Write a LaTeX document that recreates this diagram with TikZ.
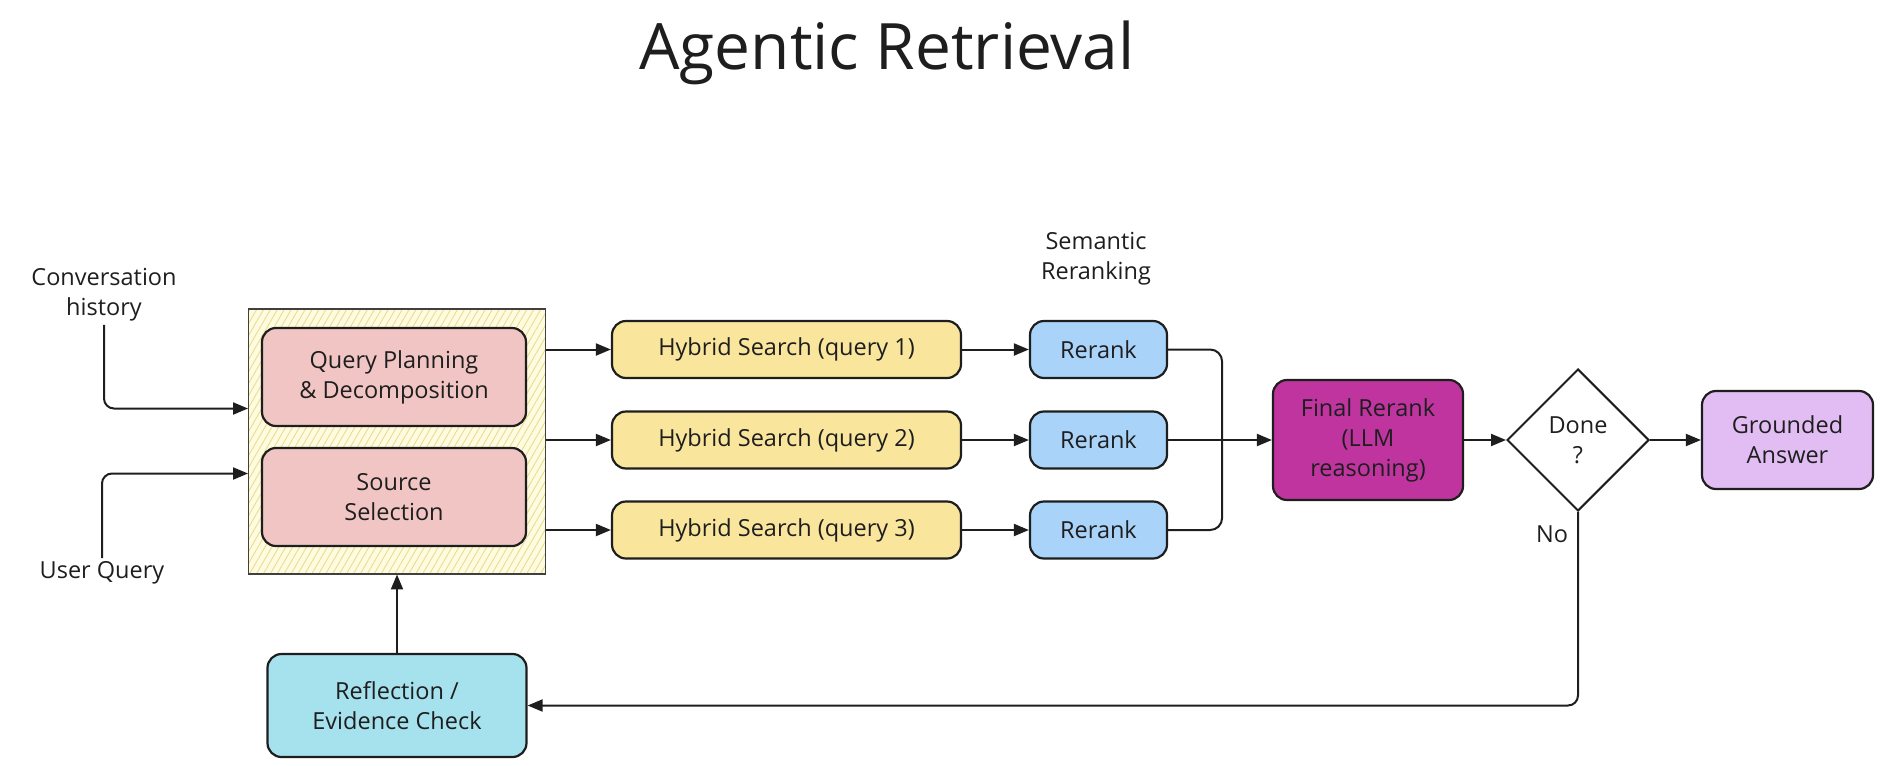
\documentclass[tikz,border=0pt]{standalone}
\usepackage{fontspec}
\setmainfont{Open Sans}
\usetikzlibrary{arrows.meta,shapes.geometric,patterns.meta}
\definecolor{ink}{HTML}{1E1E1E}
\definecolor{pinkbox}{HTML}{F2C5C5}
\definecolor{yellowbox}{HTML}{F9E69C}
\definecolor{bluebox}{HTML}{A9D3F8}
\definecolor{magentabox}{HTML}{C034A0}
\definecolor{lilacbox}{HTML}{E2BDF4}
\definecolor{cyanbox}{HTML}{A6E1EE}
\definecolor{hatchbg}{HTML}{FFFBE0}
\definecolor{hatchline}{HTML}{E8DD90}

\begin{document}
\begin{tikzpicture}[x=1pt,y=-1pt,
    every node/.style={font=\fontsize{23.5}{30}\selectfont,text=ink,align=center},
    box/.style={draw=ink,line width=2.2pt,rounded corners=14pt,inner sep=0pt},
    arr/.style={draw=ink,line width=2pt,-{Triangle[length=15pt,width=12pt]}},
    link/.style={draw=ink,line width=2pt}]
    \useasboundingbox (0,0) rectangle (1883,766);
    \node (T) [font=\fontsize{64}{70}\selectfont] at (887,53) {Agentic Retrieval};
    \node (CH) at (104,295) {Conversation\\history};
    \node (UQ) at (102,573) {User Query};
    \node (SR) at (1096,259) {Semantic\\Reranking};
    \node (G) [draw=ink!85,line width=1.4pt,minimum width=297pt,minimum height=265pt,
      preaction={fill=hatchbg},pattern={Lines[angle=60,distance=6pt,line width=0.9pt]},
      pattern color=hatchline] at (397,441.5) {};
    \node (P) [box,fill=pinkbox,minimum width=264pt,minimum height=98pt] at (394,377) {Query Planning\\\& Decomposition};
    \node (S) [box,fill=pinkbox,minimum width=264pt,minimum height=98pt] at (394,497) {Source\\Selection};
    \foreach \i/\y in {1/349.5,2/440,3/530}{
      \node (H\i) [box,fill=yellowbox,minimum width=349pt,minimum height=57pt] at (786.5,\y) {Hybrid Search (query \i)};
      \node (R\i) [box,fill=bluebox,minimum width=137pt,minimum height=57pt] at (1098.5,\y) {Rerank};
      \draw [arr] (G.east |- H\i) -- (H\i);
      \draw [arr] (H\i) -- (R\i);
    }
    \node (F) [box,fill=magentabox,minimum width=190pt,minimum height=120pt] at (1368,440) {Final Rerank\\(LLM\\reasoning)};
    \node (D) [draw=ink,line width=2pt,shape=diamond,minimum width=142pt,minimum height=142pt,inner sep=0pt] at (1578,440) {Done\\?};
    \node (A) [box,fill=lilacbox,minimum width=171pt,minimum height=98pt] at (1787.5,440) {Grounded\\Answer};
    \node (E) [box,fill=cyanbox,minimum width=259pt,minimum height=103pt] at (397,705.5) {Reflection /\\Evidence Check};
    \node (N) at (1552,534) {No};
    \draw [arr,rounded corners=10pt] (CH.south) |- ([yshift=33pt]G.west);
    \draw [arr,rounded corners=10pt] (UQ.north) |- ([yshift=-32pt]G.west);
    \draw [link,rounded corners=12pt] (R1.east) -- ++(54,0) |- (R3.east);
    \draw [arr] (R2) -- (F);
    \draw [arr] (F) -- (D);
    \draw [arr] (D) -- (A);
    \draw [arr,rounded corners=10pt] (D.south) |- (E.east);
    \draw [arr] (E) -- (G);
\end{tikzpicture}
\end{document}
